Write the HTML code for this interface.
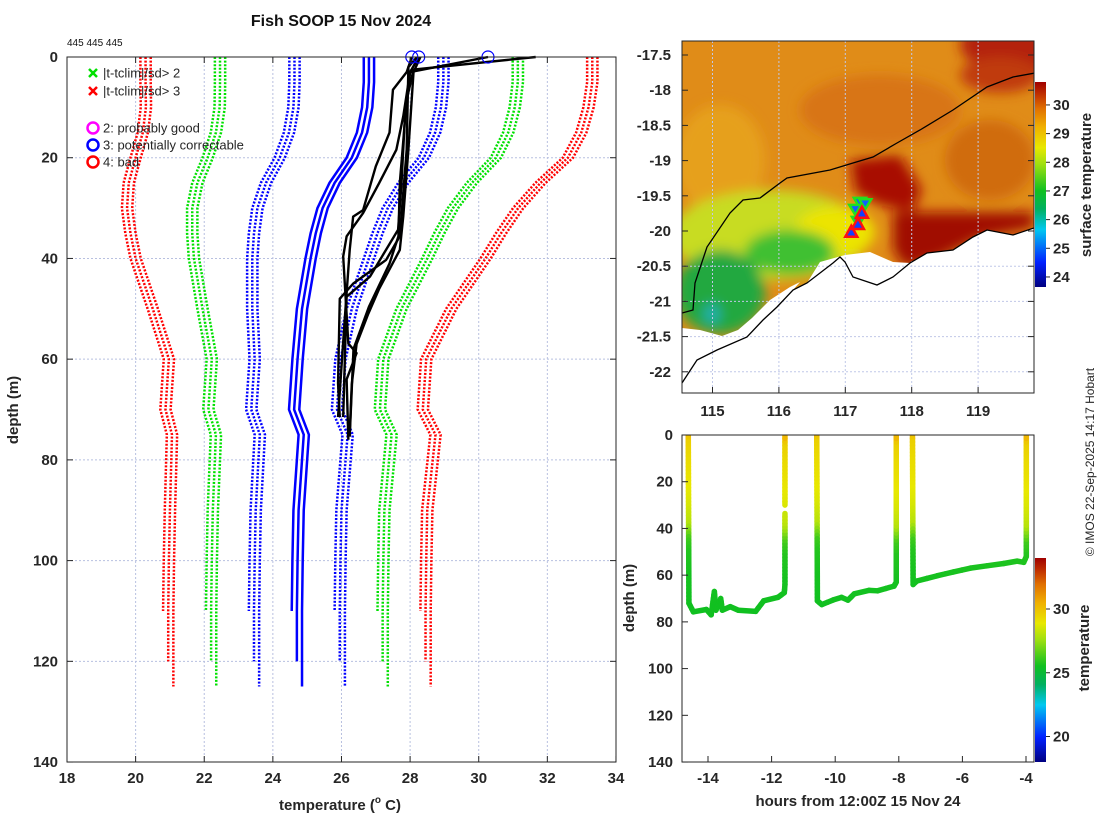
<!DOCTYPE html>
<html><head><meta charset="utf-8">
<style>
html,body{margin:0;padding:0;background:#fff;}
svg{display:block;font-family:"Liberation Sans","DejaVu Sans",sans-serif;}
.tk{font-size:15px;font-weight:bold;fill:#262626;}
.lg{font-size:13px;fill:#262626;}
</style></head>
<body>
<svg id="c" width="1100" height="820" viewBox="0 0 1100 820">
<defs>
<clipPath id="mapclip"><rect x="682" y="41" width="352" height="352"/></clipPath>
<clipPath id="botclip"><rect x="682" y="435" width="352" height="327"/></clipPath>
<filter id="blur" x="-20%" y="-20%" width="140%" height="140%"><feGaussianBlur stdDeviation="6"/></filter>
<linearGradient id="cb" x1="0" y1="1" x2="0" y2="0">
<stop offset="0" stop-color="#000080"/><stop offset="0.12" stop-color="#0020ff"/><stop offset="0.28" stop-color="#00c8f0"/>
<stop offset="0.38" stop-color="#00b060"/><stop offset="0.47" stop-color="#10c020"/><stop offset="0.6" stop-color="#a0e010"/>
<stop offset="0.68" stop-color="#e8e800"/><stop offset="0.78" stop-color="#f0b000"/><stop offset="0.87" stop-color="#e07000"/>
<stop offset="0.94" stop-color="#c03000"/><stop offset="1" stop-color="#a00000"/>
</linearGradient>
</defs>
<text x="341" y="26" text-anchor="middle" font-size="16" font-weight="bold" fill="#111">Fish SOOP 15 Nov 2024</text>
<text x="67" y="46" font-size="10" fill="#111">445 445 445</text>
<g id="left"></g>
<g id="map"></g>
<g id="bot"></g>
<text transform="translate(1094,462) rotate(-90)" text-anchor="middle" font-size="12" fill="#262626">© IMOS 22-Sep-2025 14:17 Hobart</text>
</svg>
<script>
// ---- profile plot data ----
const climDepths=[0,5,10,15,20,25,30,35,40,50,60,70,75,80,90,100,110,120,125];
const climMean=[26.8,26.8,26.75,26.6,26.3,25.8,25.45,25.25,25.1,24.85,24.72,24.62,24.9,24.85,24.75,24.72,24.7,24.7,24.7];
const climSd=[2.17,2.17,2.15,2.13,2.1,2.0,1.9,1.8,1.7,1.45,1.25,1.25,1.28,1.27,1.25,1.25,1.25,1.25,1.25];
const climOffsets=[-0.15,0,0.15];
const climMaxDepth=[110,120,125];
const sdMultipliers=[-3,-2,-1,0,1,2,3];
const profA_t=[31.66,28.1,27.9,27.7,27.66,27.4,26.8,26.35,26.24];
const profA_d=[0,2.5,8.5,25,35.6,41,49.6,58,75.4];
const profB_t=[30.27,28.0,27.85,27.75,27.65,26.83,26.15,26.05];
const profB_d=[0,3,11.8,25,34.3,43.6,47.6,71.5];
const profC_t=[28.05,27.9,27.5,27.4,27.0,26.63,26.34,26.24,26.1,25.9];
const profC_d=[0,3,6.5,15,21.7,30.4,31.7,38.3,51.6,71.5];
const profD_t=[28.25,28.0,27.8,27.6,27.1,26.63,26.15,26.05,26.2,26.44,26.15,26.2];
const profD_d=[0,3,11.8,18.4,25,31,35.6,39.6,56.9,58.8,64,76];
const profE_t=[28.2,27.95,27.9,27.7,27.3,26.34,25.95,25.9,25.95];
const profE_d=[0,2,18.4,35.6,40.3,45,48,64.8,71.5];
const profF_t=[28.3,28.1,27.95,27.8,27.7,27.1,26.78,26.44,26.3,26.24];
const profF_d=[0,3,18.4,31.7,38.3,46,51,57,65,74.8];
const flagTemps=[28.05,28.25,30.27];
const flagDepths=[0,0,0];
const xTicks=[18,20,22,24,26,28,30,32,34];
const yTicks=[0,20,40,60,80,100,120,140];
// ---- map data ----
const lonTicks=[115,116,117,118,119];
const latTicks=[-17.5,-18,-18.5,-19,-19.5,-20,-20.5,-21,-21.5,-22];
const sstTicks=[24,25,26,27,28,29,30];
const greenTriLon=[117.22,117.15,117.19,117.3];
const greenTriLat=[-19.6,-19.7,-19.87,-19.62];
const redTriLon=[117.09,117.25,117.19];
const redTriLat=[-20.01,-19.74,-19.9];
// ---- depth-time data ----
const seg1H=[-14.62,-14.6,-14.46,-14.05,-13.9,-13.8,-13.75,-13.6,-13.55,-13.3,-13.05,-12.5,-12.25,-11.8,-11.6,-11.58,-11.58];
const seg1D=[0,72,75.7,74.7,77,67,75,70,75,73.5,75,75.5,71,69.5,67.5,64,33.6];
const seg1bH=[-11.58,-11.58];
const seg1bD=[30,0];
const seg2H=[-10.58,-10.56,-10.42,-10.06,-9.8,-9.6,-9.4,-8.93,-8.67,-8.15,-8.08,-8.08];
const seg2D=[0,71,72.6,70.6,69.5,70.7,68,66.5,66.7,64.7,63,0];
const seg3H=[-7.57,-7.55,-7.43,-6.8,-6.28,-5.75,-5.23,-4.7,-4.28,-4.07,-3.99,-3.99];
const seg3D=[0,64,62.5,60.3,58.6,57,56,55,54,54.5,52,0];
const tempProfD=[0,3,10,20,30,38,45,50,60,80];
const tempProfT=[30.5,29.6,29.3,29.0,28.6,28.0,26.2,25.8,25.6,25.5];
const hourTicks=[-14,-12,-10,-8,-6,-4];
const botYTicks=[0,20,40,60,80,100,120,140];
const tempTicks=[20,25,30];

const NS="http://www.w3.org/2000/svg";
function mk(tag,attrs,parent){const e=document.createElementNS(NS,tag);for(const k in attrs)e.setAttribute(k,attrs[k]);parent.appendChild(e);return e;}
const tx=t=>67+(t-18)*34.31, dy=d=>57+d*5.036;
const lx=l=>712.5+(l-115)*66.4, ly=l=>55+(-17.5-l)*70.4;
const hx=h=>708+(h+14)*31.8, bd=d=>435+d*2.336;
const L=document.getElementById('left'),M=document.getElementById('map'),B=document.getElementById('bot');

// ---- left plot ----
mk('rect',{x:67,y:57,width:549,height:705,fill:'#fff'},L);
xTicks.slice(1,-1).forEach(t=>{const g=mk('line',{x1:tx(t),x2:tx(t),y1:57,y2:762,stroke:'#b8c0e0','stroke-width':1,'stroke-dasharray':'2,2'},L);});
yTicks.slice(1,-1).forEach(d=>{const g=mk('line',{x1:67,x2:616,y1:dy(d),y2:dy(d),stroke:'#b8c0e0','stroke-width':1,'stroke-dasharray':'2,2'},L);});
const climCols={'-3':'#ff0000','-2':'#00e000','-1':'#0000ff','0':'#0000ff','1':'#0000ff','2':'#00e000','3':'#ff0000'};
sdMultipliers.forEach(k=>{climOffsets.forEach((o,ci)=>{
  const pts=[];climDepths.forEach((d,i)=>{if(d<=climMaxDepth[ci])pts.push(tx(climMean[i]+o+k*climSd[i])+','+dy(d));});
  const p=mk('polyline',{points:pts.join(' '),fill:'none',stroke:climCols[k],'stroke-width':2.5,'stroke-dasharray':k===0?'none':'2,1.6'},L);
  
  
});});
[[profA_t,profA_d],[profB_t,profB_d],[profC_t,profC_d],[profD_t,profD_d],[profE_t,profE_d],[profF_t,profF_d]].forEach(pr=>{
  const p=mk('polyline',{points:pr[0].map((t,i)=>tx(t)+','+dy(pr[1][i])).join(' '),fill:'none',stroke:'#000','stroke-width':2.4,'stroke-linejoin':'round'},L);
  
  
});
flagTemps.forEach((t,i)=>{const c=mk('circle',{cx:tx(t),cy:dy(flagDepths[i]),r:6,fill:'none',stroke:'#0000ff','stroke-width':1.2},L);});
mk('rect',{x:67,y:57,width:549,height:705,fill:'none',stroke:'#262626','stroke-width':1},L);
xTicks.forEach(t=>{mk('line',{x1:tx(t),x2:tx(t),y1:762,y2:756,stroke:'#262626'},L);mk('line',{x1:tx(t),x2:tx(t),y1:57,y2:63,stroke:'#262626'},L);
  const e=mk('text',{x:tx(t),y:783,'text-anchor':'middle',class:'tk'},L);e.textContent=t;});
yTicks.forEach(d=>{mk('line',{x1:67,x2:73,y1:dy(d),y2:dy(d),stroke:'#262626'},L);mk('line',{x1:616,x2:610,y1:dy(d),y2:dy(d),stroke:'#262626'},L);
  const e=mk('text',{x:58,y:dy(d)+5,'text-anchor':'end',class:'tk'},L);e.textContent=d;});
let e=mk('text',{x:340,y:810,'text-anchor':'middle',class:'tk'},L);
e.innerHTML='temperature (<tspan font-size="10" dy="-7">o</tspan><tspan dy="7"> C)</tspan>';

e=mk('text',{transform:'translate(18,410) rotate(-90)','text-anchor':'middle',class:'tk'},L);e.textContent='depth (m)';

const lgItems=[['x','#00e000','|t-tclim|/sd> 2',73],['x','#ff0000','|t-tclim|/sd> 3',91],['o','#ff00ff','2: probably good',128],['o','#0000ff','3: potentially correctable',145],['o','#ff0000','4: bad',162]];
lgItems.forEach(it=>{
  const g=mk('g',{},L);
  if(it[0]==='x'){mk('path',{d:`M89 ${it[3]-4}l8 8M97 ${it[3]-4}l-8 8`,stroke:it[1],'stroke-width':2.5},g);}
  else{mk('circle',{cx:93,cy:it[3],r:5.5,fill:'none',stroke:it[1],'stroke-width':2.5},g);}
  const t=mk('text',{x:103,y:it[3]+4.5,class:'lg'},g);t.textContent=it[2];
});

// ---- map ----
const mg=mk('g',{'clip-path':'url(#mapclip)'},M);
mk('rect',{x:682,y:41,width:352,height:352,fill:'#e08c18'},mg);
const fg=mk('g',{filter:'url(#blur)'},mg);
[['ellipse',{cx:1030,cy:45,rx:70,ry:30,fill:'#b42008'}],['ellipse',{cx:1000,cy:75,rx:40,ry:18,fill:'#c03a08'}],
 ['ellipse',{cx:880,cy:110,rx:80,ry:35,fill:'#d87412'}],['ellipse',{cx:990,cy:160,rx:45,ry:40,fill:'#d06c10'}],
 ['ellipse',{cx:720,cy:160,rx:45,ry:55,fill:'#e6a01a'}],
 ['ellipse',{cx:770,cy:235,rx:100,ry:45,fill:'#c8dc20'}],['ellipse',{cx:835,cy:232,rx:40,ry:25,fill:'#ece400'}],
 ['ellipse',{cx:790,cy:252,rx:45,ry:22,fill:'#40c030'}],['ellipse',{cx:720,cy:292,rx:45,ry:42,fill:'#20a840'}],
 ['ellipse',{cx:712,cy:314,rx:8,ry:10,fill:'#20b0b0'}],
 ['polygon',{points:'850,160 900,155 922,190 912,212 880,205 855,192',fill:'#a81000'}],
 ['polygon',{points:'893,212 1034,212 1034,228 980,238 940,258 905,268 893,250',fill:'#a00a00'}]
].forEach(s=>mk(s[0],s[1],fg));
const land=mk('polygon',{points:'682,383 697,360 717,350 747,337 763,320 777,307 793,290 807,283 820,262 845,255 870,252 893,262 910,263 927,253 953,250 973,237 987,230 1013,235 1034,228 1034,393 682,393',fill:'#fff'},mg);

const nod=mk('polygon',{points:'682,328 700,330 722,336 738,330 752,318 770,300 790,287 800,282 793,290 777,307 763,320 747,337 717,350 697,360 682,383',fill:'#fff'},mg);

lonTicks.forEach(l=>mk('line',{x1:lx(l),x2:lx(l),y1:41,y2:393,stroke:'#c0c8e8','stroke-dasharray':'2,2'},mg));
latTicks.forEach(l=>{if(l<-20.2)mk('line',{x1:682,x2:1034,y1:ly(l),y2:ly(l),stroke:'#c0c8e8','stroke-dasharray':'2,2'},mg);});
let p=mk('path',{d:'M682,313 L693,310 695,283 707,247 730,213 743,200 760,198 780,183 787,178 830,170 853,163 873,157 897,143 920,130 953,110 987,87 1013,77 1035,73',fill:'none',stroke:'#000','stroke-width':1.3},mg);

p=mk('path',{d:'M682,383 L697,360 717,350 747,337 763,320 777,307 793,290 807,283 820,273 833,263 840,257 845,262 853,277 877,285 893,277 910,263 927,253 953,250 973,237 987,230 1013,235 1034,228',fill:'none',stroke:'#000','stroke-width':1.3},mg);

greenTriLon.forEach((l,i)=>{const x=lx(l),y=ly(greenTriLat[i]);const t=mk('polygon',{points:`${x-6},${y-5} ${x+6},${y-5} ${x},${y+5}`,fill:'#1060ff',stroke:'#20e020','stroke-width':2.5},mg);});
redTriLon.forEach((l,i)=>{const x=lx(l),y=ly(redTriLat[i]);const t=mk('polygon',{points:`${x-6},${y+5} ${x+6},${y+5} ${x},${y-6}`,fill:'#1040ff',stroke:'#ff1010','stroke-width':2.5},mg);});
mk('rect',{x:682,y:41,width:352,height:352,fill:'none',stroke:'#262626'},M);
lonTicks.forEach(l=>{mk('line',{x1:lx(l),x2:lx(l),y1:393,y2:387,stroke:'#262626'},M);
  const t=mk('text',{x:lx(l),y:416,'text-anchor':'middle',class:'tk'},M);t.textContent=l;});
latTicks.forEach(l=>{mk('line',{x1:682,x2:688,y1:ly(l),y2:ly(l),stroke:'#262626'},M);mk('line',{x1:1034,x2:1028,y1:ly(l),y2:ly(l),stroke:'#262626'},M);
  const t=mk('text',{x:671,y:ly(l)+5,'text-anchor':'end',class:'tk'},M);t.textContent=l;});
let cb=mk('rect',{x:1035,y:82,width:11,height:205,fill:'url(#cb)'},M);
const sy=t=>287-(t-23.65)/(30.8-23.65)*205;
sstTicks.forEach(t=>{mk('line',{x1:1046,x2:1050,y1:sy(t),y2:sy(t),stroke:'#262626'},M);
  const e=mk('text',{x:1053,y:sy(t)+5,class:'tk'},M);e.textContent=t;});
e=mk('text',{transform:'translate(1091,185) rotate(-90)','text-anchor':'middle',class:'tk'},M);e.textContent='surface temperature';


// ---- bottom plot ----
const stops=[[0,[0,0,128]],[0.12,[0,32,255]],[0.28,[0,200,240]],[0.38,[0,176,96]],[0.47,[16,192,32]],[0.6,[160,224,16]],[0.68,[232,232,0]],[0.78,[240,176,0]],[0.87,[224,112,0]],[0.94,[192,48,0]],[1,[160,0,0]]];
function cmap(t){const f=Math.max(0,Math.min(1,(t-18)/16));for(let i=1;i<stops.length;i++){if(f<=stops[i][0]){const a=stops[i-1],b=stops[i],u=(f-a[0])/(b[0]-a[0]);return 'rgb('+a[1].map((v,j)=>Math.round(v+(b[1][j]-v)*u)).join(',')+')';}}return 'rgb(160,0,0)';}
function tAt(d){for(let i=1;i<tempProfD.length;i++){if(d<=tempProfD[i]){const u=(d-tempProfD[i-1])/(tempProfD[i]-tempProfD[i-1]);return tempProfT[i-1]+u*(tempProfT[i]-tempProfT[i-1]);}}return tempProfT[tempProfT.length-1];}
const bg=mk('g',{'clip-path':'url(#botclip)'},B);
[[seg1H,seg1D],[seg1bH,seg1bD],[seg2H,seg2D],[seg3H,seg3D]].forEach(s=>{
  const g=mk('g',{},bg);
  for(let i=1;i<s[0].length;i++){
    const n=Math.max(1,Math.ceil(Math.abs(s[1][i]-s[1][i-1])/1.5));
    for(let k=0;k<n;k++){
      const h0=s[0][i-1]+(s[0][i]-s[0][i-1])*k/n,h1=s[0][i-1]+(s[0][i]-s[0][i-1])*(k+1)/n;
      const d0=s[1][i-1]+(s[1][i]-s[1][i-1])*k/n,d1=s[1][i-1]+(s[1][i]-s[1][i-1])*(k+1)/n;
      mk('line',{x1:hx(h0),y1:bd(d0),x2:hx(h1),y2:bd(d1),stroke:cmap(tAt((d0+d1)/2)),'stroke-width':5.5,'stroke-linecap':'round'},g);
    }
  }
});
mk('rect',{x:682,y:435,width:352,height:327,fill:'none',stroke:'#262626'},B);
hourTicks.forEach(h=>{mk('line',{x1:hx(h),x2:hx(h),y1:762,y2:756,stroke:'#262626'},B);
  const t=mk('text',{x:hx(h),y:783,'text-anchor':'middle',class:'tk'},B);t.textContent=h;});
botYTicks.forEach(d=>{mk('line',{x1:682,x2:688,y1:bd(d),y2:bd(d),stroke:'#262626'},B);
  const t=mk('text',{x:673,y:bd(d)+5,'text-anchor':'end',class:'tk'},B);t.textContent=d;});
e=mk('text',{x:858,y:806,'text-anchor':'middle',class:'tk'},B);e.textContent='hours from 12:00Z 15 Nov 24';

e=mk('text',{transform:'translate(634,598) rotate(-90)','text-anchor':'middle',class:'tk'},B);e.textContent='depth (m)';

cb=mk('rect',{x:1035,y:558,width:11,height:204,fill:'url(#cb)'},B);
const ty=t=>762-(t-18)/16*204;
tempTicks.forEach(t=>{mk('line',{x1:1046,x2:1050,y1:ty(t),y2:ty(t),stroke:'#262626'},B);
  const e=mk('text',{x:1053,y:ty(t)+5,class:'tk'},B);e.textContent=t;});
e=mk('text',{transform:'translate(1089,648) rotate(-90)','text-anchor':'middle',class:'tk'},B);e.textContent='temperature';

</script>
</body></html>
